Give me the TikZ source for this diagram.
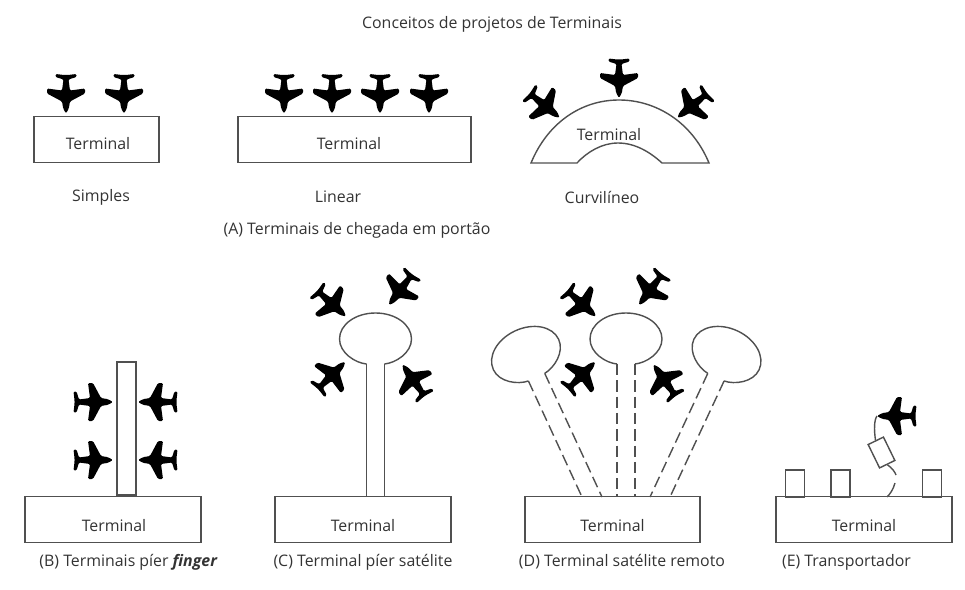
\documentclass[tikz,border=0pt]{standalone}
\usepackage{fontspec}
\setmainfont{Open Sans}
\usepackage{xcolor}
\usetikzlibrary{calc,positioning}
\definecolor{linegray}{HTML}{505050}
\definecolor{textgray}{HTML}{333333}
\tikzset{
  termbox/.style={draw=linegray,line width=1pt,inner sep=0pt,minimum height=11.5mm},
  gate/.style={draw=linegray,line width=1pt,fill=white,inner sep=0pt,minimum width=4.7mm,minimum height=6.8mm},
  lbl/.style={text=textgray,inner sep=0pt,font=\fontsize{11.3}{13}\selectfont},
  wall/.style={draw=linegray,line width=1pt},
  tube/.style={wall,dash pattern=on 8pt off 3.6pt},
  plane/.pic={
    \fill[black,rounded corners=.9pt] (20,0) -- (15,-2.8) -- (8,-4) -- (0,-19) -- (-5,-19)
      -- (-3,-4) -- (-14,-2.5) -- (-16.5,-10.5) -- (-19.5,-10.5) -- (-18.5,-2) -- (-18.5,2)
      -- (-19.5,10.5) -- (-16.5,10.5) -- (-14,2.5) -- (-3,4) -- (-5,19) -- (0,19)
      -- (8,4) -- (15,2.8) -- cycle;
    \coordinate (-nose) at (20,0);
  },
  bulb/.pic={
    \draw[wall] (9,25) .. controls (20,24) and (36,14) .. (36,0)
      .. controls (36,-14.4) and (20,-26) .. (0,-26)
      .. controls (-20,-26) and (-36,-14.4) .. (-36,0)
      .. controls (-36,14) and (-20,24) .. (-9,25);
    \coordinate (-a) at (-9,25);
    \coordinate (-b) at (9,25);
  }
}
\begin{document}
\begin{tikzpicture}[x=.025cm,y=-.025cm]
  \useasboundingbox (0,0) rectangle (965,590);
  \node[lbl] (title) at (492,24) {Conceitos de projetos de Terminais};

  % Gate arrival row.
  \node[termbox,minimum width=31.2mm] (simple) at (96.5,139.5) {};
  \node[termbox,minimum width=58.2mm] (linear) at (354.5,139.5) {};
  \node[lbl] (simplet) at (98,144) {Terminal};
  \node[lbl] (lineart) at (349,144) {Terminal};
  \node[lbl] (curvet) at (609,135) {Terminal};
  \foreach \x in {66,124,284,332,380,429}
    \pic[rotate=-90] at (\x,93.5) {plane};
  \draw[wall] (531,163) .. controls (548,122) and (582,100) .. (619,100)
    .. controls (656,100) and (692,122) .. (709,163) -- (662,163)
    .. controls (650,152) and (635,143) .. (618,143)
    .. controls (602,143) and (587,152) .. (577,163) -- cycle;
  \pic[rotate=-90] at (619,78) {plane};
  \pic[rotate=-39] at (544,105) {plane};
  \pic[rotate=219] at (693,105) {plane};
  \node[lbl] (simples) at (101,197) {Simples};
  \node[lbl] (lineal) at (338,197) {Linear};
  \node[lbl] (curve) at (602,197) {Curvilíneo};
  \node[lbl] (capa) at (357,230) {(A) Terminais de chegada em portão};

  % Finger pier.
  \node[termbox,minimum width=44mm] (termb) at (113,519.5) {};
  \node[lbl] (termbt) at (114,526) {Terminal};
  \node[wall,inner sep=0pt,minimum width=4.7mm,minimum height=33.25mm,anchor=south] (pier) at (termb.north -| 126.5,0) {};
  \foreach \y in {402,460} {
    \pic at (93,\y) {plane};
    \pic[rotate=180] at (158,\y) {plane};
  }
  \node[lbl] (capb) at (128.5,562) {(B) Terminais píer \textbf{\textit{finger}}};

  % Pier satellite.
  \node[termbox,minimum width=44mm] (termc) at (363,519.5) {};
  \node[lbl] (termct) at (363,526) {Terminal};
  \pic (bc) at (375.5,339) {bulb};
  \draw[wall] (bc-a) -- (bc-a |- termc.north);
  \draw[wall] (bc-b) -- (bc-b |- termc.north);
  \pic[rotate=-42] at (331,303) {plane};
  \pic[rotate=233] at (401,289) {plane};
  \pic[rotate=45] at (331,376) {plane};
  \pic[rotate=125] at (414,381) {plane};
  \node[lbl] (capc) at (363,562) {(C) Terminal píer satélite};

  % Remote satellites.
  \node[termbox,minimum width=43.75mm] (termd) at (612.5,519.5) {};
  \node[lbl] (termdt) at (612.5,526) {Terminal};
  \pic (sl) [rotate=25] at (526,354.5) {bulb};
  \pic (sc) at (626,339) {bulb};
  \pic (sr) [rotate=-25] at (726.5,354.5) {bulb};
  \coordinate (d1) at (582,497);
  \coordinate (d2) at (602,497);
  \coordinate (d3) at (650,497);
  \coordinate (d4) at (670,497);
  \draw[tube] (sl-a) -- (d1);
  \draw[tube] (sl-b) -- (d2);
  \draw[tube] (sc-a) -- (sc-a |- termd.north);
  \draw[tube] (sc-b) -- (sc-b |- termd.north);
  \draw[tube] (sr-a) -- (d3);
  \draw[tube] (sr-b) -- (d4);
  \pic[rotate=-42] at (581,303) {plane};
  \pic[rotate=233] at (651,289) {plane};
  \pic[rotate=45] at (581,376) {plane};
  \pic[rotate=125] at (665,381) {plane};
  \node[lbl] (capd) at (622,562) {(D) Terminal satélite remoto};

  % Transporter.
  \node[termbox,minimum width=44mm] (terme) at (864,519.5) {};
  \node[lbl] (termet) at (864,526) {Terminal};
  \node[gate] (ga) at (795,483.5) {};
  \node[gate] (gb) at (840.5,483.5) {};
  \node[gate] (gc) at (932,483.5) {};
  \node[gate,minimum width=4.25mm,minimum height=6.5mm,rotate=26] (cart) at (881.5,452.5) {};
  \pic[rotate=180] (pe) at (897,416) {plane};
  \coordinate (w1) at (896,475);
  \coordinate (w2) at (895,483);
  \coordinate (w3) at (887,497);
  \draw[wall] (cart.north) .. controls (874,430) and (874,420) .. (pe-nose);
  \draw[wall] (cart.south) .. controls (892,468) and (895,472) .. (w1);
  \draw[wall] (w2) .. controls (893,490) and (890,494) .. (w3);
  \node[lbl] (cape) at (846.5,562) {(E) Transportador};
\end{tikzpicture}
\end{document}
